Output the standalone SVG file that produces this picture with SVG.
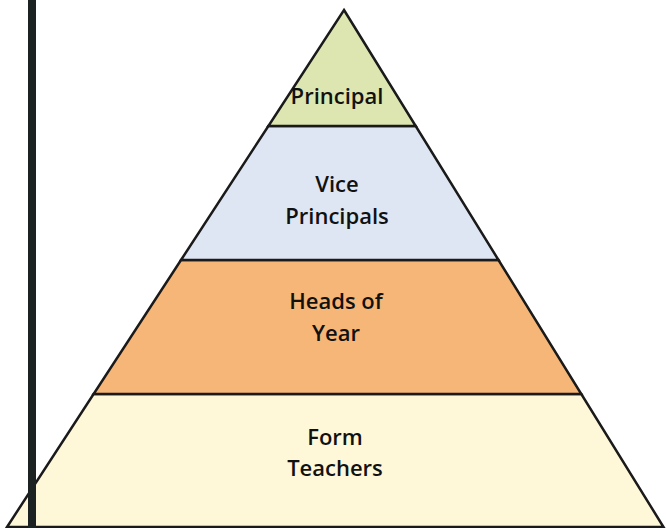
<svg xmlns="http://www.w3.org/2000/svg" width="666" height="528" viewBox="0 0 666 528">
<style>
.band{stroke:#1a1a1a;stroke-width:2.5;stroke-linejoin:miter}
.lbl{font-family:"Open Sans","DejaVu Sans",sans-serif;font-size:22px;font-weight:600;fill:#111111;text-anchor:middle}
</style>
<rect width="666" height="528" fill="#ffffff"/>
<g id="level-form-teachers">
<polygon class="band" points="93.6,394 581.3,394 663.5,527 7,527" fill="#fef8d9"/>
<text class="lbl" x="335" y="445">Form</text>
<text class="lbl" x="335" y="476">Teachers</text>
</g>
<g id="level-heads-of-year">
<polygon class="band" points="181,260 498.5,260 581.3,394 93.6,394" fill="#f6b677"/>
<text class="lbl" x="336" y="309">Heads of</text>
<text class="lbl" x="336" y="341">Year</text>
</g>
<g id="level-vice-principals">
<polygon class="band" points="268.4,126 415.7,126 498.5,260 181,260" fill="#dfe6f3"/>
<text class="lbl" x="337" y="192">Vice</text>
<text class="lbl" x="337" y="224">Principals</text>
</g>
<g id="level-principal">
<polygon class="band" points="344,10 415.7,126 268.4,126" fill="#dde6b0"/>
<text class="lbl" x="337" y="104">Principal</text>
</g>
<g id="connectors"></g>
<rect id="left-bar" x="28" y="0" width="8" height="528" fill="#1c2121"/>
</svg>
